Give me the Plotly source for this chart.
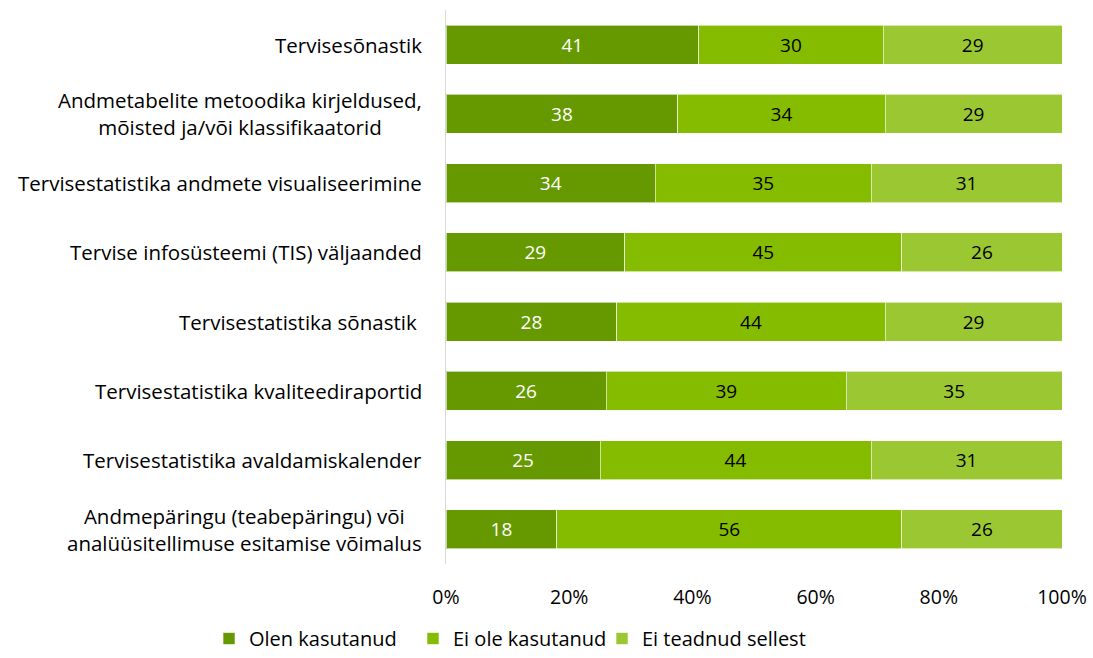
import plotly.graph_objects as go

categories = [
    "Tervisesõnastik",
    "Andmetabelite metoodika kirjeldused,<br>mõisted ja/või klassifikaatorid",
    "Tervisestatistika andmete visualiseerimine",
    "Tervise infosüsteemi (TIS) väljaanded",
    "Tervisestatistika sõnastik ",
    "Tervisestatistika kvaliteediraportid",
    "Tervisestatistika avaldamiskalender",
    "Andmepäringu (teabepäringu) või<br>analüüsitellimuse esitamise võimalus",
]
olen = [41, 38, 34, 29, 28, 26, 25, 18]
ei_ole = [30, 34, 35, 45, 44, 39, 44, 56]
ei_teadnud = [29, 29, 31, 26, 29, 35, 31, 26]
series_names = ["Olen kasutanud", "Ei ole kasutanud", "Ei teadnud sellest"]
colors = ["#669900", "#86BC00", "#9BC832"]
text_colors = ["white", "black", "black"]
tick_vals = [0, 20, 40, 60, 80, 100]
tick_text = ["0%", "20%", "40%", "60%", "80%", "100%"]

W, H = 1093, 658
FONT = "Open Sans"
legend_ids = ["legend", "legend2", "legend3"]
legend_left_px = [209, 413, 602]

fig = go.Figure()
for name, vals, col, tc, lid in zip(series_names, [olen, ei_ole, ei_teadnud], colors, text_colors, legend_ids):
    fig.add_trace(go.Bar(
        y=categories, x=vals, name=name, orientation="h", legend=lid,
        marker=dict(color=col, line=dict(color="rgba(255,255,255,0.6)", width=1)),
        text=[str(v) for v in vals], textposition="inside", insidetextanchor="middle",
        textfont=dict(color=tc, size=19, family=FONT),
    ))

for cat in categories:
    fig.add_annotation(
        x=0, xref="paper", y=cat, yref="y", text=cat, showarrow=False,
        xanchor="right", yanchor="middle", align="center", xshift=-22,
        font=dict(family=FONT, size=20.5, color="black"),
    )

legend_layout = {}
for lid, lx in zip(legend_ids, legend_left_px):
    legend_layout[lid] = dict(
        orientation="h", xref="container", yref="container", x=lx / W, y=0,
        xanchor="left", yanchor="bottom", font=dict(size=20), itemwidth=30,
        bgcolor="rgba(0,0,0,0)",
    )

fig.update_layout(
    barmode="stack", barnorm="percent", bargap=0.44,
    width=W, height=H,
    margin=dict(l=446, r=31, t=10, b=94, autoexpand=False),
    plot_bgcolor="white", paper_bgcolor="white",
    font=dict(family=FONT, size=20, color="black"),
    showlegend=True,
    xaxis=dict(range=[0, 100], tickvals=tick_vals, ticktext=tick_text, showgrid=False,
               zeroline=False, showline=False, ticks="", ticklabelstandoff=19,
               tickfont=dict(size=19.5), automargin=False),
    yaxis=dict(autorange="reversed", showline=True, linecolor="#d9d9d9", linewidth=1,
               ticks="", showticklabels=False, showgrid=False, automargin=False),
    **legend_layout,
)
fig.write_html("out.html", config={"displayModeBar": False},
               post_script="document.body.style.margin='0';document.body.style.overflow='hidden';")
